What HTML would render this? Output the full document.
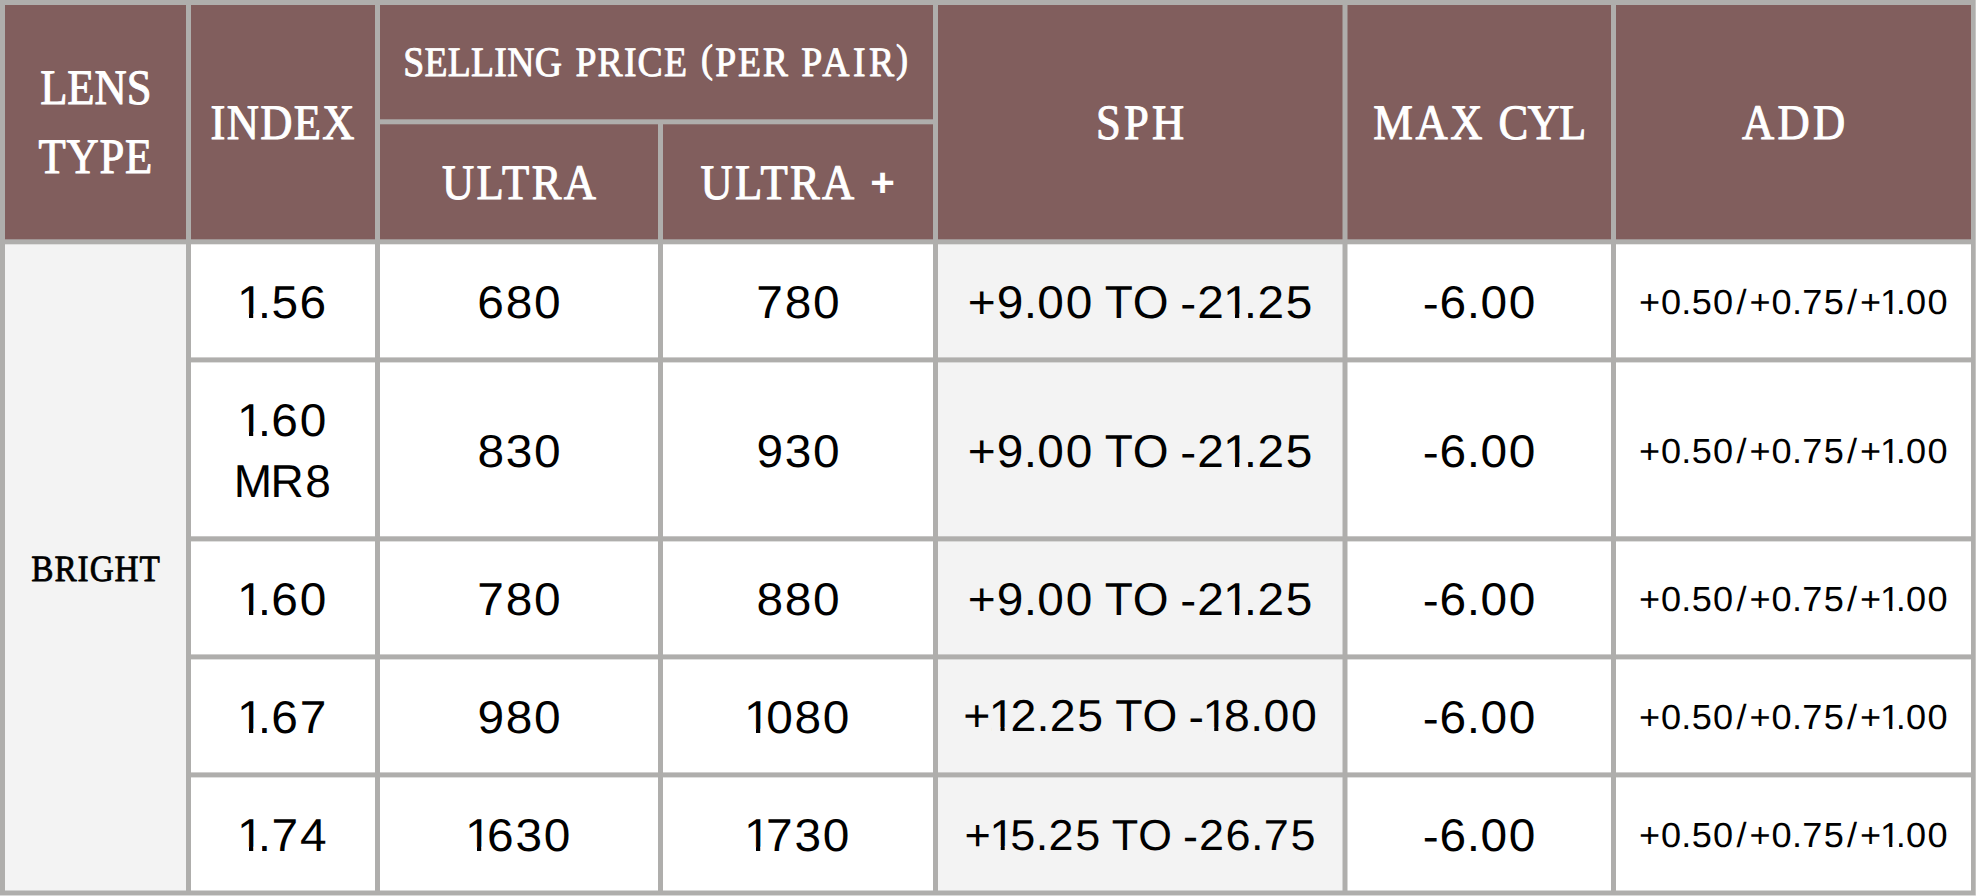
<!DOCTYPE html>
<html lang="en"><head><meta charset="utf-8"><title>Lens price table</title>
<style>html,body{margin:0;padding:0;background:#afaeac;}body{width:1976px;height:896px;overflow:hidden;}</style>
</head><body>
<svg width="1976" height="896" viewBox="0 0 1976 896" style="display:block">
<rect x="0" y="0" width="1976" height="896" fill="#afaeac"/>
<rect x="5" y="5" width="181" height="234.3" fill="#815e5d"/>
<rect x="191" y="5" width="184" height="234.3" fill="#815e5d"/>
<rect x="380" y="5" width="553" height="114.3" fill="#815e5d"/>
<rect x="380" y="124.3" width="278" height="115.0" fill="#815e5d"/>
<rect x="663" y="124.3" width="270" height="115.0" fill="#815e5d"/>
<rect x="938" y="5" width="404.5" height="234.3" fill="#815e5d"/>
<rect x="1347.5" y="5" width="263.5" height="234.3" fill="#815e5d"/>
<rect x="1616" y="5" width="355" height="234.3" fill="#815e5d"/>
<rect x="5" y="244.3" width="181" height="646.2" fill="#f3f3f3"/>
<rect x="191" y="244.3" width="184" height="113.1" fill="#fff"/>
<rect x="380" y="244.3" width="278" height="113.1" fill="#fff"/>
<rect x="663" y="244.3" width="270" height="113.1" fill="#fff"/>
<rect x="938" y="244.3" width="404.5" height="113.1" fill="#f3f3f3"/>
<rect x="1347.5" y="244.3" width="263.5" height="113.1" fill="#fff"/>
<rect x="1616" y="244.3" width="355" height="113.1" fill="#fff"/>
<rect x="191" y="362.4" width="184" height="173.9" fill="#fff"/>
<rect x="380" y="362.4" width="278" height="173.9" fill="#fff"/>
<rect x="663" y="362.4" width="270" height="173.9" fill="#fff"/>
<rect x="938" y="362.4" width="404.5" height="173.9" fill="#f3f3f3"/>
<rect x="1347.5" y="362.4" width="263.5" height="173.9" fill="#fff"/>
<rect x="1616" y="362.4" width="355" height="173.9" fill="#fff"/>
<rect x="191" y="541.4" width="184" height="113.0" fill="#fff"/>
<rect x="380" y="541.4" width="278" height="113.0" fill="#fff"/>
<rect x="663" y="541.4" width="270" height="113.0" fill="#fff"/>
<rect x="938" y="541.4" width="404.5" height="113.0" fill="#f3f3f3"/>
<rect x="1347.5" y="541.4" width="263.5" height="113.0" fill="#fff"/>
<rect x="1616" y="541.4" width="355" height="113.0" fill="#fff"/>
<rect x="191" y="659.4" width="184" height="113.0" fill="#fff"/>
<rect x="380" y="659.4" width="278" height="113.0" fill="#fff"/>
<rect x="663" y="659.4" width="270" height="113.0" fill="#fff"/>
<rect x="938" y="659.4" width="404.5" height="113.0" fill="#f3f3f3"/>
<rect x="1347.5" y="659.4" width="263.5" height="113.0" fill="#fff"/>
<rect x="1616" y="659.4" width="355" height="113.0" fill="#fff"/>
<rect x="191" y="777.4" width="184" height="113.1" fill="#fff"/>
<rect x="380" y="777.4" width="278" height="113.1" fill="#fff"/>
<rect x="663" y="777.4" width="270" height="113.1" fill="#fff"/>
<rect x="938" y="777.4" width="404.5" height="113.1" fill="#f3f3f3"/>
<rect x="1347.5" y="777.4" width="263.5" height="113.1" fill="#fff"/>
<rect x="1616" y="777.4" width="355" height="113.1" fill="#fff"/>
<rect x="1975" y="0" width="1" height="896" fill="#c6c5c3"/>
<rect x="0" y="895.25" width="1976" height="0.75" fill="#e6e6e6"/>
<text transform="translate(40.15 104) scale(0.9 1)" font-family="Liberation Serif, serif" font-size="49.5" fill="#fff" text-rendering="geometricPrecision" stroke="#fff" stroke-width="1.0" stroke-linejoin="round" letter-spacing="-0.036">LENS</text>
<text transform="translate(38.45 173) scale(0.9 1)" font-family="Liberation Serif, serif" font-size="49.5" fill="#fff" text-rendering="geometricPrecision" stroke="#fff" stroke-width="1.0" stroke-linejoin="round" letter-spacing="0.889">TYPE</text>
<text transform="translate(210.55 139) scale(0.9 1)" font-family="Liberation Serif, serif" font-size="49.5" fill="#fff" text-rendering="geometricPrecision" stroke="#fff" stroke-width="1.0" stroke-linejoin="round" letter-spacing="1.486">INDEX</text>
<text transform="translate(0 76) scale(0.9 1)" font-family="Liberation Serif, serif" font-size="41.9" fill="#fff" text-rendering="geometricPrecision" stroke="#fff" stroke-width="0.9" stroke-linejoin="round"><tspan x="448.17" letter-spacing="0.268">SELLING</tspan> <tspan x="639.39" letter-spacing="1.291">PRICE</tspan> <tspan x="778.92" dy="-3.75" font-size="39.84">(</tspan><tspan x="794.61" dy="3.75" letter-spacing="2.028">PER</tspan> <tspan x="890.17" letter-spacing="3.907">PAIR</tspan><tspan x="995.65" dy="-4.0" font-size="40.11">)</tspan></text>
<text transform="translate(442.0 199) scale(0.9 1)" font-family="Liberation Serif, serif" font-size="49.5" fill="#fff" text-rendering="geometricPrecision" stroke="#fff" stroke-width="1.0" stroke-linejoin="round" letter-spacing="2.653">ULTRA</text>
<text transform="translate(700.4 199) scale(0.9 1)" font-family="Liberation Serif, serif" font-size="49.5" fill="#fff" text-rendering="geometricPrecision" stroke="#fff" stroke-width="1.0" stroke-linejoin="round" letter-spacing="2.625">ULTRA</text>
<text transform="translate(870.25 196.15) scale(1.0676 1)" font-family="Liberation Sans, sans-serif" font-size="39.51" fill="#fff" text-rendering="geometricPrecision" font-weight="bold">+</text>
<text transform="translate(1095.9 139) scale(0.9 1)" font-family="Liberation Serif, serif" font-size="49.5" fill="#fff" text-rendering="geometricPrecision" stroke="#fff" stroke-width="1.0" stroke-linejoin="round" letter-spacing="3.582">SPH</text>
<text transform="translate(0.0 139) scale(0.9 1)" font-family="Liberation Serif, serif" font-size="49.5" fill="#fff" text-rendering="geometricPrecision" stroke="#fff" stroke-width="1.0" stroke-linejoin="round"><tspan x="1525.83" letter-spacing="2.917">MAX</tspan> <tspan x="1664.89" letter-spacing="-0.639">CYL</tspan></text>
<text transform="translate(1741.9 139) scale(0.9 1)" font-family="Liberation Serif, serif" font-size="49.5" fill="#fff" text-rendering="geometricPrecision" stroke="#fff" stroke-width="1.0" stroke-linejoin="round" letter-spacing="3.721">ADD</text>
<text transform="translate(31.3 581) scale(0.9 1)" font-family="Liberation Serif, serif" font-size="37.0" fill="#000" text-rendering="geometricPrecision" stroke="#000" stroke-width="0.8" stroke-linejoin="round" letter-spacing="1.044">BRIGHT</text>
<text transform="translate(0 318) scale(1.04 1)" x="227.84 247.89 261.05 288.06" font-family="Liberation Sans, sans-serif" font-size="46.0" fill="#000" text-rendering="geometricPrecision">1.56</text>
<text transform="translate(0 318) scale(1.04 1)" x="458.88 486.25 513.46" font-family="Liberation Sans, sans-serif" font-size="46.0" fill="#000" text-rendering="geometricPrecision">680</text>
<text transform="translate(0 318) scale(1.04 1)" x="727.28 754.52 781.73" font-family="Liberation Sans, sans-serif" font-size="46.0" fill="#000" text-rendering="geometricPrecision">780</text>
<text transform="translate(0 318) scale(1.04 1)" x="930.43 958.42 984.33 997.45 1024.66" font-family="Liberation Sans, sans-serif" font-size="46.0" fill="#000" text-rendering="geometricPrecision">+9.00</text>
<text transform="translate(0 318) scale(1.0 1)" x="1104.66 1132.82" font-family="Liberation Sans, sans-serif" font-size="46.0" fill="#000" text-rendering="geometricPrecision">TO</text>
<text transform="translate(0 318) scale(1.04 1)" x="1134.84 1151.3 1175.92 1195.97 1209.08 1236.34" dy="1 -1" font-family="Liberation Sans, sans-serif" font-size="46.0" fill="#000" text-rendering="geometricPrecision">-21.25</text>
<text transform="translate(0 318) scale(1.04 1)" x="1367.97 1384.26 1410.34 1423.46 1450.67" dy="1 -1" font-family="Liberation Sans, sans-serif" font-size="46.0" fill="#000" text-rendering="geometricPrecision">-6.00</text>
<text transform="translate(0 314) scale(1.04 1)" x="1575.95 1597.1 1616.69 1626.64 1647.17 1669.73 1682.26 1703.41 1723.0 1732.89 1753.51 1776.04 1788.57 1807.76 1822.91 1832.82 1853.39" font-family="Liberation Sans, sans-serif" font-size="34.76" fill="#000" text-rendering="geometricPrecision">+0.50/+0.75/+1.00</text>
<text transform="translate(0 436) scale(1.04 1)" x="227.84 247.89 260.85 288.22" font-family="Liberation Sans, sans-serif" font-size="46.0" fill="#000" text-rendering="geometricPrecision">1.60</text>
<text transform="translate(0 497) scale(1.0 1)" x="233.69 270.57 305.36" font-family="Liberation Sans, sans-serif" font-size="46.0" fill="#000" text-rendering="geometricPrecision">MR8</text>
<text transform="translate(0 467) scale(1.04 1)" x="459.04 486.38 513.46" font-family="Liberation Sans, sans-serif" font-size="46.0" fill="#000" text-rendering="geometricPrecision">830</text>
<text transform="translate(0 467) scale(1.04 1)" x="727.32 754.65 781.73" font-family="Liberation Sans, sans-serif" font-size="46.0" fill="#000" text-rendering="geometricPrecision">930</text>
<text transform="translate(0 467) scale(1.04 1)" x="930.43 958.42 984.33 997.45 1024.66" font-family="Liberation Sans, sans-serif" font-size="46.0" fill="#000" text-rendering="geometricPrecision">+9.00</text>
<text transform="translate(0 467) scale(1.0 1)" x="1104.66 1132.82" font-family="Liberation Sans, sans-serif" font-size="46.0" fill="#000" text-rendering="geometricPrecision">TO</text>
<text transform="translate(0 467) scale(1.04 1)" x="1134.84 1151.3 1175.92 1195.97 1209.08 1236.34" dy="1 -1" font-family="Liberation Sans, sans-serif" font-size="46.0" fill="#000" text-rendering="geometricPrecision">-21.25</text>
<text transform="translate(0 467) scale(1.04 1)" x="1367.97 1384.26 1410.34 1423.46 1450.67" dy="1 -1" font-family="Liberation Sans, sans-serif" font-size="46.0" fill="#000" text-rendering="geometricPrecision">-6.00</text>
<text transform="translate(0 463) scale(1.04 1)" x="1575.95 1597.1 1616.69 1626.64 1647.17 1669.73 1682.26 1703.41 1723.0 1732.89 1753.51 1776.04 1788.57 1807.76 1822.91 1832.82 1853.39" font-family="Liberation Sans, sans-serif" font-size="34.76" fill="#000" text-rendering="geometricPrecision">+0.50/+0.75/+1.00</text>
<text transform="translate(0 615) scale(1.04 1)" x="227.84 247.89 260.85 288.22" font-family="Liberation Sans, sans-serif" font-size="46.0" fill="#000" text-rendering="geometricPrecision">1.60</text>
<text transform="translate(0 615) scale(1.04 1)" x="459.01 486.25 513.46" font-family="Liberation Sans, sans-serif" font-size="46.0" fill="#000" text-rendering="geometricPrecision">780</text>
<text transform="translate(0 615) scale(1.04 1)" x="727.3 754.52 781.73" font-family="Liberation Sans, sans-serif" font-size="46.0" fill="#000" text-rendering="geometricPrecision">880</text>
<text transform="translate(0 615) scale(1.04 1)" x="930.43 958.42 984.33 997.45 1024.66" font-family="Liberation Sans, sans-serif" font-size="46.0" fill="#000" text-rendering="geometricPrecision">+9.00</text>
<text transform="translate(0 615) scale(1.0 1)" x="1104.66 1132.82" font-family="Liberation Sans, sans-serif" font-size="46.0" fill="#000" text-rendering="geometricPrecision">TO</text>
<text transform="translate(0 615) scale(1.04 1)" x="1134.84 1151.3 1175.92 1195.97 1209.08 1236.34" dy="1 -1" font-family="Liberation Sans, sans-serif" font-size="46.0" fill="#000" text-rendering="geometricPrecision">-21.25</text>
<text transform="translate(0 615) scale(1.04 1)" x="1367.97 1384.26 1410.34 1423.46 1450.67" dy="1 -1" font-family="Liberation Sans, sans-serif" font-size="46.0" fill="#000" text-rendering="geometricPrecision">-6.00</text>
<text transform="translate(0 611) scale(1.04 1)" x="1575.95 1597.1 1616.69 1626.64 1647.17 1669.73 1682.26 1703.41 1723.0 1732.89 1753.51 1776.04 1788.57 1807.76 1822.91 1832.82 1853.39" font-family="Liberation Sans, sans-serif" font-size="34.76" fill="#000" text-rendering="geometricPrecision">+0.50/+0.75/+1.00</text>
<text transform="translate(0 733) scale(1.04 1)" x="227.84 247.89 260.85 288.2" font-family="Liberation Sans, sans-serif" font-size="46.0" fill="#000" text-rendering="geometricPrecision">1.67</text>
<text transform="translate(0 733) scale(1.04 1)" x="459.05 486.25 513.46" font-family="Liberation Sans, sans-serif" font-size="46.0" fill="#000" text-rendering="geometricPrecision">980</text>
<text transform="translate(0 733) scale(1.04 1)" x="715.34 736.68 763.89 791.1" font-family="Liberation Sans, sans-serif" font-size="46.0" fill="#000" text-rendering="geometricPrecision">1080</text>
<text transform="translate(0 731) scale(1.04 1)" x="926.14 950.8 971.52 996.68 1009.42 1035.89" font-family="Liberation Sans, sans-serif" font-size="44.67" fill="#000" text-rendering="geometricPrecision">+12.25</text>
<text transform="translate(0 731) scale(1.0 1)" x="1115.16 1142.5" font-family="Liberation Sans, sans-serif" font-size="44.67" fill="#000" text-rendering="geometricPrecision">TO</text>
<text transform="translate(0 731) scale(1.04 1)" x="1142.83 1156.29 1177.01 1202.18 1214.92 1241.34" dy="1 -1" font-family="Liberation Sans, sans-serif" font-size="44.67" fill="#000" text-rendering="geometricPrecision">-18.00</text>
<text transform="translate(0 733) scale(1.04 1)" x="1367.97 1384.26 1410.34 1423.46 1450.67" dy="1 -1" font-family="Liberation Sans, sans-serif" font-size="46.0" fill="#000" text-rendering="geometricPrecision">-6.00</text>
<text transform="translate(0 729) scale(1.04 1)" x="1575.95 1597.1 1616.69 1626.64 1647.17 1669.73 1682.26 1703.41 1723.0 1732.89 1753.51 1776.04 1788.57 1807.76 1822.91 1832.82 1853.39" font-family="Liberation Sans, sans-serif" font-size="34.76" fill="#000" text-rendering="geometricPrecision">+0.50/+0.75/+1.00</text>
<text transform="translate(0 851) scale(1.04 1)" x="227.84 247.89 260.98 288.36" font-family="Liberation Sans, sans-serif" font-size="46.0" fill="#000" text-rendering="geometricPrecision">1.74</text>
<text transform="translate(0 851) scale(1.04 1)" x="447.07 468.25 495.76 522.83" font-family="Liberation Sans, sans-serif" font-size="46.0" fill="#000" text-rendering="geometricPrecision">1630</text>
<text transform="translate(0 851) scale(1.04 1)" x="715.34 736.66 764.03 791.1" font-family="Liberation Sans, sans-serif" font-size="46.0" fill="#000" text-rendering="geometricPrecision">1730</text>
<text transform="translate(0 850) scale(1.04 1)" x="927.47 951.36 971.47 995.82 1008.16 1033.8" font-family="Liberation Sans, sans-serif" font-size="43.27" fill="#000" text-rendering="geometricPrecision">+15.25</text>
<text transform="translate(0 850) scale(1.0 1)" x="1111.81 1138.29" font-family="Liberation Sans, sans-serif" font-size="43.27" fill="#000" text-rendering="geometricPrecision">TO</text>
<text transform="translate(0 850) scale(1.04 1)" x="1137.4 1152.88 1178.33 1202.86 1215.18 1240.84" dy="1 -1" font-family="Liberation Sans, sans-serif" font-size="43.27" fill="#000" text-rendering="geometricPrecision">-26.75</text>
<text transform="translate(0 851) scale(1.04 1)" x="1367.97 1384.26 1410.34 1423.46 1450.67" dy="1 -1" font-family="Liberation Sans, sans-serif" font-size="46.0" fill="#000" text-rendering="geometricPrecision">-6.00</text>
<text transform="translate(0 847) scale(1.04 1)" x="1575.95 1597.1 1616.69 1626.64 1647.17 1669.73 1682.26 1703.41 1723.0 1732.89 1753.51 1776.04 1788.57 1807.76 1822.91 1832.82 1853.39" font-family="Liberation Sans, sans-serif" font-size="34.76" fill="#000" text-rendering="geometricPrecision">+0.50/+0.75/+1.00</text>
<rect x="239.6" y="313.76" width="9.39" height="5.44" fill="#fff"/>
<rect x="253.21" y="313.76" width="8.79" height="5.44" fill="#fff"/>
<rect x="1225.6" y="313.76" width="9.39" height="5.44" fill="#f3f3f3"/>
<rect x="1239.21" y="313.76" width="8.79" height="5.44" fill="#f3f3f3"/>
<rect x="1881.82" y="310.6" width="7.34" height="4.6" fill="#fff"/>
<rect x="1892.36" y="310.6" width="6.6" height="4.6" fill="#fff"/>
<rect x="239.6" y="431.76" width="9.39" height="5.44" fill="#fff"/>
<rect x="253.21" y="431.76" width="8.79" height="5.44" fill="#fff"/>
<rect x="1225.6" y="462.76" width="9.39" height="5.44" fill="#f3f3f3"/>
<rect x="1239.21" y="462.76" width="8.79" height="5.44" fill="#f3f3f3"/>
<rect x="1881.82" y="459.6" width="7.34" height="4.6" fill="#fff"/>
<rect x="1892.36" y="459.6" width="6.6" height="4.6" fill="#fff"/>
<rect x="239.6" y="610.76" width="9.39" height="5.44" fill="#fff"/>
<rect x="253.21" y="610.76" width="8.79" height="5.44" fill="#fff"/>
<rect x="1225.6" y="610.76" width="9.39" height="5.44" fill="#f3f3f3"/>
<rect x="1239.21" y="610.76" width="8.79" height="5.44" fill="#f3f3f3"/>
<rect x="1881.82" y="607.6" width="7.34" height="4.6" fill="#fff"/>
<rect x="1892.36" y="607.6" width="6.6" height="4.6" fill="#fff"/>
<rect x="239.6" y="728.76" width="9.39" height="5.44" fill="#fff"/>
<rect x="253.21" y="728.76" width="8.79" height="5.44" fill="#fff"/>
<rect x="746.6" y="728.76" width="9.39" height="5.44" fill="#fff"/>
<rect x="760.21" y="728.76" width="9.01" height="5.44" fill="#fff"/>
<rect x="991.37" y="726.86" width="9.14" height="5.34" fill="#f3f3f3"/>
<rect x="1004.61" y="726.86" width="7.92" height="5.34" fill="#f3f3f3"/>
<rect x="1205.08" y="726.86" width="9.14" height="5.34" fill="#f3f3f3"/>
<rect x="1218.33" y="726.86" width="8.78" height="5.34" fill="#f3f3f3"/>
<rect x="1881.82" y="725.6" width="7.34" height="4.6" fill="#fff"/>
<rect x="1892.36" y="725.6" width="6.6" height="4.6" fill="#fff"/>
<rect x="239.6" y="846.76" width="9.39" height="5.44" fill="#fff"/>
<rect x="253.21" y="846.76" width="8.79" height="5.44" fill="#fff"/>
<rect x="467.6" y="846.76" width="9.39" height="5.44" fill="#fff"/>
<rect x="481.21" y="846.76" width="9.01" height="5.44" fill="#fff"/>
<rect x="746.6" y="846.76" width="9.39" height="5.44" fill="#fff"/>
<rect x="760.21" y="846.76" width="9.01" height="5.44" fill="#fff"/>
<rect x="991.84" y="845.97" width="8.89" height="5.23" fill="#f3f3f3"/>
<rect x="1004.71" y="845.97" width="8.42" height="5.23" fill="#f3f3f3"/>
<rect x="1881.82" y="843.6" width="7.34" height="4.6" fill="#fff"/>
<rect x="1892.36" y="843.6" width="6.6" height="4.6" fill="#fff"/>
</svg>
</body></html>
